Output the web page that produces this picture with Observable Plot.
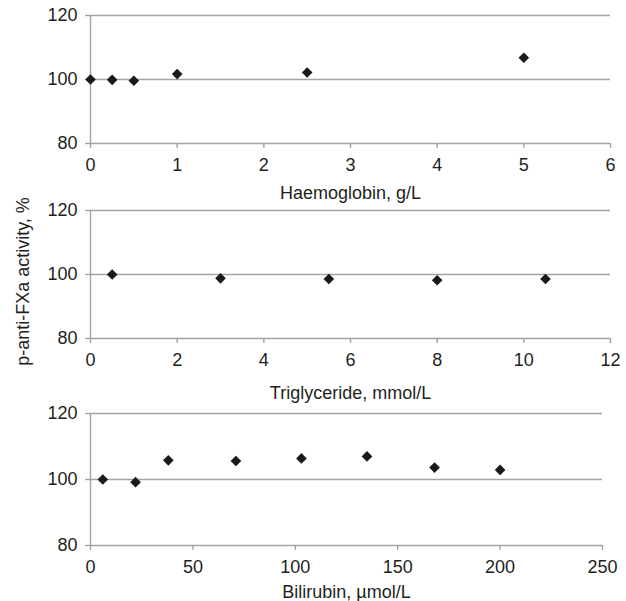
<!DOCTYPE html>
<html>
<head>
<meta charset="utf-8">
<script src="https://cdn.jsdelivr.net/npm/d3@7"></script>
<script src="https://cdn.jsdelivr.net/npm/@observablehq/plot@0.6"></script>
<style>
  html, body { margin: 0; padding: 0; background: #fff; }
  #chart { width: 626px; height: 601px; position: relative; overflow: hidden; }
  #chart svg { display: block; overflow: visible; }
</style>
</head>
<body>
<div id="chart"></div>
<script>
// ---- data ----
const yTicks = [80, 100, 120];
const yLabel = "p-anti-FXa activity, %";

const hbLabel = "Haemoglobin, g/L";
const hbTicks = [0, 1, 2, 3, 4, 5, 6];
const hbX = [0, 0.25, 0.5, 1, 2.5, 5];
const hbY = [100.0, 99.9, 99.6, 101.7, 102.2, 106.8];

const trLabel = "Triglyceride, mmol/L";
const trTicks = [0, 2, 4, 6, 8, 10, 12];
const trX = [0.5, 3, 5.5, 8, 10.5];
const trY = [100.0, 98.8, 98.6, 98.2, 98.6];

const biLabel = "Bilirubin, \u00b5mol/L";
const biTicks = [0, 50, 100, 150, 200, 250];
const biX = [6, 22, 38, 71, 103, 135, 168, 200];
const biY = [100.0, 99.2, 105.8, 105.6, 106.4, 107.0, 103.6, 102.9];

// ---- styling ----
const FONT = "'Liberation Sans', Arial, Helvetica, sans-serif";
const GRID = "#a3a3a3";
const INK = "#231f20";

function panel({xs, ys, ticks, label, height, mt, mb, mr, labelOffset, extra = []}) {
  const data = xs.map((x, i) => ({x, y: ys[i]}));
  const xDomain = [ticks[0], ticks[ticks.length - 1]];
  return Plot.plot({
    width: 626,
    height,
    marginLeft: 90,
    marginRight: mr,
    marginTop: mt,
    marginBottom: mb,
    style: {fontFamily: FONT, fontSize: "18px", color: INK, background: "white", overflow: "visible"},
    x: {domain: xDomain},
    y: {domain: [80, 120]},
    marks: [
      Plot.ruleY(yTicks, {stroke: GRID, strokeWidth: 1.4}),
      Plot.ruleX([xDomain[0]], {stroke: GRID, strokeWidth: 1.4}),
      Plot.axisY({ticks: yTicks, tickSize: 5, tickPadding: 8, stroke: GRID, strokeWidth: 1.4, fill: INK,
                  label: null, tickFormat: d => String(d)}),
      Plot.axisX({ticks, tickSize: 5, tickPadding: 10, stroke: GRID, strokeWidth: 1.4, fill: INK,
                  tickFormat: d => String(d),
                  label, labelAnchor: "center", labelArrow: "none", labelOffset}),
      Plot.dot(data, {x: "x", y: "y", symbol: "diamond2", r: 4.8, fill: "#1a1a1a", stroke: "none"}),
      ...extra
    ]
  });
}

const chart = document.getElementById("chart");

chart.append(panel({xs: hbX, ys: hbY, ticks: hbTicks, label: hbLabel,
  height: 200, mt: 15, mb: 57, mr: 16, labelOffset: 55}));

chart.append(panel({xs: trX, ys: trY, ticks: trTicks, label: trLabel,
  height: 200, mt: 10, mb: 62, mr: 16, labelOffset: 60,
  extra: [
    Plot.text([yLabel], {frameAnchor: "left", text: d => d, rotate: -90, dx: -67, dy: 7,
      fontSize: 18, fill: INK, textAnchor: "middle"})
  ]}));

chart.append(panel({xs: biX, ys: biY, ticks: biTicks, label: biLabel,
  height: 201, mt: 13, mb: 56, mr: 24, labelOffset: 52}));
</script>
</body>
</html>
